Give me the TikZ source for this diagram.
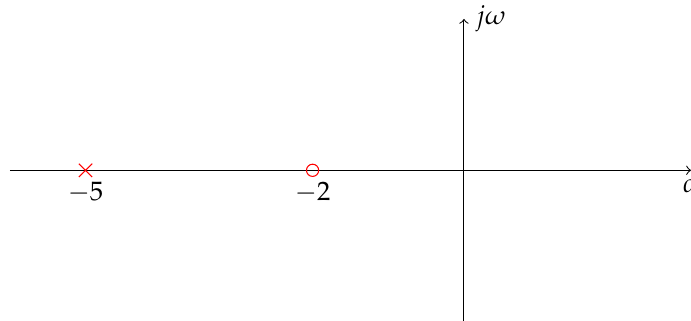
\documentclass[tikz,border=0pt]{standalone}
\usepackage{mathpazo}
\usepackage{tikz}
\usetikzlibrary{shapes.misc,arrows}

\tikzset{
  zero/.style={circle,draw=red,minimum size=4.6pt,inner sep=0pt},
  pole/.style={cross out,draw=red,minimum size=4.6pt,inner sep=0pt}
}

\begin{document}
\begin{tikzpicture}[scale=1.0]
			\useasboundingbox (-6.13,-1.98) rectangle (3,2.25);

			% axes
			\coordinate (xmin) at (-6,0);
			\coordinate (xmax) at (3,0);
			\coordinate (ymin) at (0,-2);
			\coordinate (ymax) at (0,2);
			\draw [->] (xmin) -- (xmax) node [below] (sigma) {$\sigma$};
			\draw [->] (ymin) -- (ymax) node [right=1pt] (jw) {$j\omega$};

			% pole and zero
			\node [pole] (p1) at (-5,0) {};
			\node [zero] (z1) at (-2,0) {};
			\node [below=1pt] (p1lab) at (p1.center) {$-5$};
			\node [below=1pt] (z1lab) at (z1.center) {$-2$};
		\end{tikzpicture}
\end{document}
